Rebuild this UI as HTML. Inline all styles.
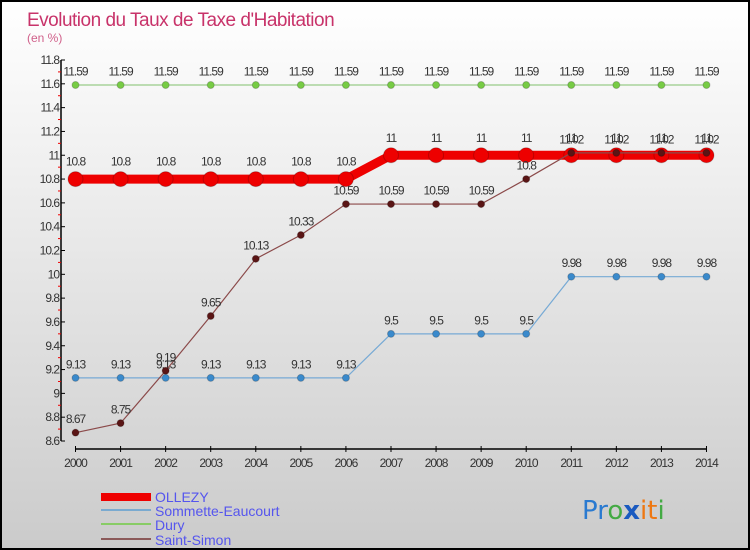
<!DOCTYPE html>
<html><head><meta charset="utf-8"><style>
body{margin:0;width:750px;height:550px;overflow:hidden;font-family:"Liberation Sans",sans-serif}
#c{position:absolute;left:0;top:0;width:746px;height:546px;border:2px solid #000;background:linear-gradient(#fff,#fafafa 10%,#cbcbcb)}
</style></head><body>
<div id="c">
<svg id="s" width="746" height="546" style="position:absolute;left:0;top:0">
<text x="25" y="24" font-size="19" fill="#c8336a" style="letter-spacing:-0.5px">Evolution du Taux de Taxe d'Habitation</text>
<text x="25" y="40" font-size="12" fill="#d0608a">(en %)</text>
<g id="g"></g>
<g>
<rect x="99" y="491" width="50" height="8" fill="#e00"/>
<text x="153" y="500" font-size="14" fill="#5555ee">OLLEZY</text>
<rect x="99" y="507" width="50" height="2" fill="#7aaad0"/>
<text x="153" y="514" font-size="14" fill="#5555ee">Sommette-Eaucourt</text>
<rect x="99" y="521" width="50" height="2" fill="#88cc66"/>
<text x="153" y="528" font-size="14" fill="#5555ee">Dury</text>
<rect x="99" y="536" width="50" height="2" fill="#8b5a5a"/>
<text x="153" y="543" font-size="14" fill="#5555ee">Saint-Simon</text>
</g>
<g font-size="26" font-family="DejaVu Sans,sans-serif">
<text x="580" y="517"><tspan fill="#2a7ad0">Pr</tspan><tspan fill="#44aa44">o</tspan><tspan fill="#1a5ac0" font-weight="bold">x</tspan><tspan fill="#ee7711">it</tspan><tspan fill="#44aa44">i</tspan></text>
</g>
</svg>
</div>
<script>
const years=[2000,2001,2002,2003,2004,2005,2006,2007,2008,2009,2010,2011,2012,2013,2014];
const ollezy=[10.8,10.8,10.8,10.8,10.8,10.8,10.8,11,11,11,11,11,11,11,11];
const sommette=[9.13,9.13,9.13,9.13,9.13,9.13,9.13,9.5,9.5,9.5,9.5,9.98,9.98,9.98,9.98];
const dury=[11.59,11.59,11.59,11.59,11.59,11.59,11.59,11.59,11.59,11.59,11.59,11.59,11.59,11.59,11.59];
const saintSimon=[8.67,8.75,9.19,9.65,10.13,10.33,10.59,10.59,10.59,10.59,10.8,11.02,11.02,11.02,11.02];
const yTicks=[8.6,8.8,9,9.2,9.4,9.6,9.8,10,10.2,10.4,10.6,10.8,11,11.2,11.4,11.6,11.8];
const NS='http://www.w3.org/2000/svg';
const g=document.getElementById('g');
const X=i=>73.5+i*45.07, Y=v=>58+(11.8-v)/3.2*381;
function mk(t,a){const e=document.createElementNS(NS,t);for(const k in a)e.setAttribute(k,a[k]);g.appendChild(e);return e;}
let e=mk('line',{x1:59,y1:Y(11.8),x2:59,y2:Y(8.6),stroke:'#000','stroke-width':1.5});


e=mk('line',{x1:X(0),y1:447,x2:X(14),y2:447,stroke:'#000','stroke-width':1.5});


yTicks.forEach((v,i)=>{
 mk('line',{x1:59,x2:63,y1:Y(v),y2:Y(v),stroke:'#000'});
 if(i<yTicks.length-1)mk('line',{x1:56,x2:59,y1:Y(v+0.1),y2:Y(v+0.1),stroke:'#e00'});
 const t=mk('text',{x:57,y:Y(v)+4,'font-size':12,fill:'#333','text-anchor':'end','letter-spacing':'-1'});t.textContent=String(v);
 
 
});
years.forEach((y,i)=>{
 mk('line',{x1:X(i),x2:X(i),y1:444,y2:450,stroke:'#000'});
 const t=mk('text',{x:X(i),y:465,'font-size':12,fill:'#333','text-anchor':'middle','letter-spacing':'-1'});t.textContent=y;
 
 
});
function series(d,name,col,w,r,dot){
 const p=mk('polyline',{points:d.map((v,i)=>X(i)+','+Y(v)).join(' '),fill:'none',stroke:col,'stroke-width':w});
 
 
 d.forEach((v,i)=>{
  const c=mk('circle',{cx:X(i),cy:Y(v),r:r,fill:dot,stroke:'#0003'});
  
  
  const t=mk('text',{x:X(i),y:Y(v)-(r+6),'font-size':12,fill:'#333','text-anchor':'middle','letter-spacing':'-1'});t.textContent=String(v);
  
  
 });
}
series(dury,'dury','#99cc88',1.2,3.5,'#77cc44');
series(sommette,'sommette','#77aad5',1.2,3.5,'#3a8acc');
series(ollezy,'ollezy','#ee0000',9,7.5,'#ee0000');
series(saintSimon,'saint-simon','#8b4a4a',1.2,3.5,'#5a1515');
</script>
</body></html>
